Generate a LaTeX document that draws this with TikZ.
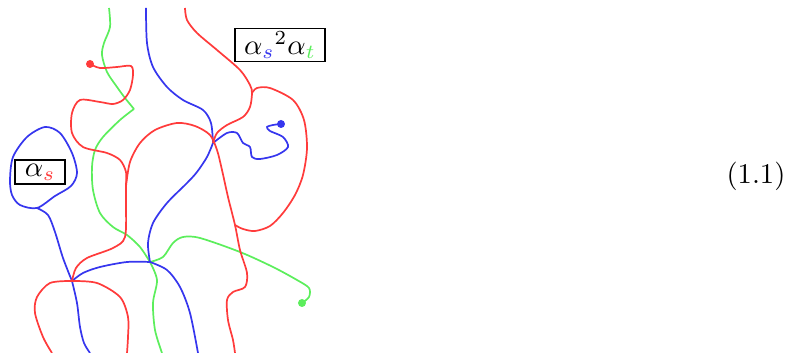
\documentclass[tikz,border=0pt]{standalone}
\usepackage{amsmath}
\usepackage{amssymb}
\usepackage[usenames,dvipsnames]{xcolor}
\usepackage{tikz}

\begin{document}
\begin{tikzpicture}[x=0.35pt, y=-0.35pt, line width=0.6pt]

\definecolor{redc}{HTML}{FF3B3B}
\definecolor{bluec}{HTML}{3636EE}
\definecolor{greenc}{HTML}{5CEE5C}

\useasboundingbox (0,0) rectangle (795,353);

\coordinate (vtop)  at (213,143);
\coordinate (vmid)  at (150,262);
\coordinate (vlow)  at (72,281);
\coordinate (vloop) at (37,208);
\coordinate (vfork) at (126,186);
\coordinate (vkink) at (252,93);
\coordinate (vright) at (235,225);
\coordinate (vcorner) at (134,109);

\draw[greenc] plot[smooth] coordinates {(109,8) (110,27) (104,43) (102,55) (107,72) (117,87) (125,98) (vcorner)};
\draw[greenc] plot[smooth] coordinates {(vcorner) (120,120) (103,137) (95,150) (92,167) (93,190) (100,213) (113,227) (127,235) (140,247) (vmid)};
\draw[greenc] plot[smooth] coordinates {(vmid) (157,280) (153,303) (155,330) (162,353)};
\draw[greenc] plot[smooth] coordinates {(vmid) (163,257) (173,243) (183,237) (200,238) (240,252) (273,267) (297,280) (309,288) (309,297) (302,303)};
\fill[greenc] (302,303) circle (1.4pt);

\draw[bluec] plot[smooth] coordinates {(146,8) (147,43) (153,67) (167,87) (183,100) (203,110) (211,123) (vtop)};
\draw[bluec] plot[smooth] coordinates {(vtop) (207,157) (197,172) (187,183) (167,203) (153,223) (148,243) (vmid)};
\draw[bluec] plot[smooth] coordinates {(vmid) (167,270) (180,287) (190,313) (198,353)};
\draw[bluec] plot[smooth] coordinates {(vmid) (127,262) (100,267) (83,273) (vlow)};
\draw[bluec] plot[smooth] coordinates {(vlow) (63,258) (55,232) (48,215) (vloop)};
\draw[bluec] plot[smooth cycle] coordinates {(vloop) (20,205) (12,195) (10,180) (13,157) (27,137) (45,127) (60,133) (72,153) (77,173) (71,186) (55,196)};
\draw[bluec] plot[smooth] coordinates {(vlow) (77,303) (80,327) (84,343) (90,353)};
\draw[bluec] plot[smooth] coordinates {(vtop) (227,133) (237,133) (243,143) (250,147) (252,157) (260,159) (277,155) (288,147) (283,137) (270,131) (267,127) (273,125) (281,124)};
\fill[bluec] (281,124) circle (1.4pt);

\draw[redc] plot[smooth] coordinates {(90,64) (100,68) (117,67) (131,66) (133,75) (130,90) (123,100) (113,104) (100,102) (80,100) (72,113) (72,133) (83,147) (107,153) (120,160) (126,172) (vfork) (126,203) (125,237) (113,248) (87,258) (76,268) (vlow)};
\fill[redc] (90,64) circle (1.4pt);
\draw[redc] plot[smooth] coordinates {(vlow) (50,283) (37,297) (35,313) (43,337) (52,353)};
\draw[redc] plot[smooth] coordinates {(vlow) (97,283) (120,297) (128,317) (128,337) (127,353)};
\draw[redc] plot[smooth] coordinates {(vfork) (130,162) (140,143) (155,130) (177,123) (195,126) (210,135) (217,150) (222,170) (228,197) (vright) (240,250) (247,273) (245,287) (233,292) (227,300) (228,320) (233,340) (235,353)};
\draw[redc] plot[smooth] coordinates {(185,8) (187,20) (197,33) (217,50) (240,70) (250,85) (vkink) (250,107) (243,117) (227,125) (217,133) (vtop)};
\draw[redc] plot[smooth] coordinates {(vkink) (257,88) (270,88) (293,100) (304,120) (307,148) (303,175) (295,195) (283,213) (270,226) (255,231) (243,229) (vright)};

\node[draw, line width=0.6pt, inner xsep=3.3pt, inner ysep=1.4pt] (boxs) at (40,172) {$\alpha_{\color{redc}s}$};
\node[draw, line width=0.6pt, inner xsep=3.3pt, inner ysep=1pt] (boxsst) at (280,45) {${\alpha_{\color{bluec}s}}^2\alpha_{\color{greenc}t}$};
\node (eqno) at (756,176) {(1.1)};

\end{tikzpicture}
\end{document}
